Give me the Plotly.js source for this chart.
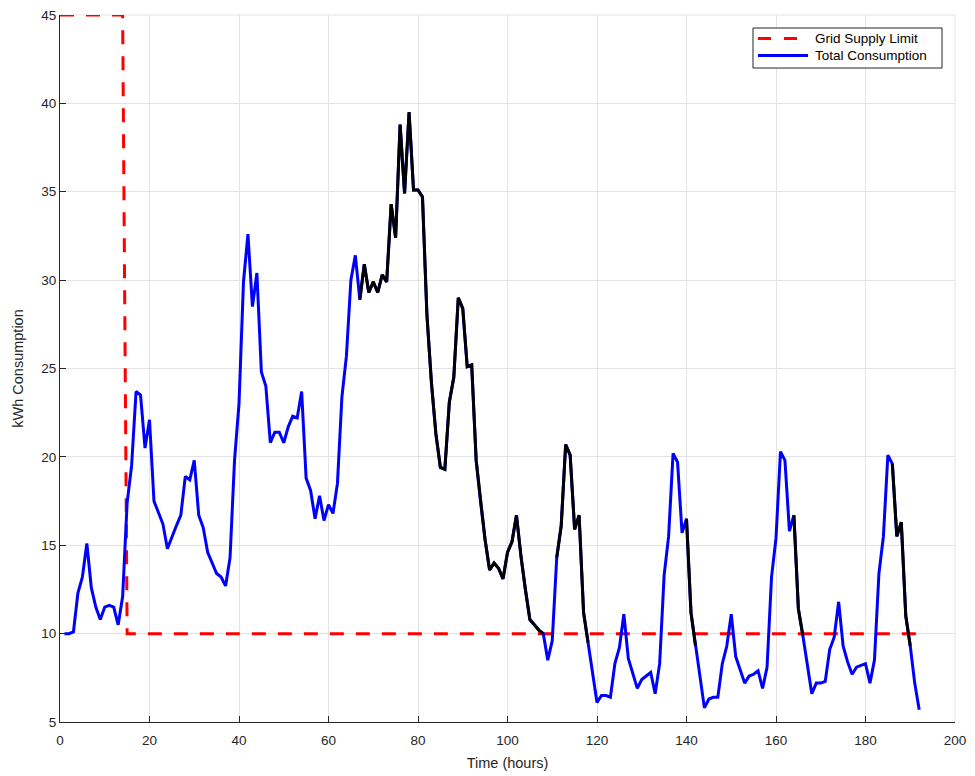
<!DOCTYPE html>
<html>
<head>
<meta charset="utf-8">
<script src="https://cdn.plot.ly/plotly-3.0.1.min.js"></script>
<style>
  html, body { margin: 0; padding: 0; background: #ffffff; }
  #chart { width: 975px; height: 776px; }
</style>
</head>
<body>
<div id="chart"></div>
<script>
// Hourly total consumption (kWh), hours 1..192
const consumption = [
  10.0, 10.0, 10.1, 12.3, 13.2, 15.1, 12.6, 11.5, 10.8, 11.5,
  11.6, 11.5, 10.5, 12.1, 17.4, 19.5, 23.7, 23.5, 20.5, 22.1,
  17.5, 16.9, 16.2, 14.8, 15.5, 16.1, 16.7, 18.9, 18.7, 19.8,
  16.7, 16.0, 14.6, 14.0, 13.4, 13.2, 12.7, 14.3, 19.8, 23.0,
  29.9, 32.6, 28.5, 30.4, 24.8, 24.0, 20.8, 21.4, 21.4, 20.8,
  21.7, 22.3, 22.2, 23.7, 18.8, 18.1, 16.5, 17.8, 16.4, 17.3,
  16.8, 18.5, 23.4, 25.7, 30.0, 31.4, 28.9, 30.9, 29.3, 29.9,
  29.3, 30.3, 29.9, 34.3, 32.4, 38.8, 34.9, 39.5, 35.1, 35.1,
  34.7, 28.0, 24.2, 21.3, 19.4, 19.3, 23.1, 24.5, 29.0, 28.4,
  25.1, 25.2, 19.8, 17.4, 15.3, 13.6, 14.0, 13.7, 13.1, 14.6,
  15.2, 16.7, 14.4, 12.5, 10.8, 10.5, 10.2, 10.0, 8.5, 9.6,
  14.3, 16.1, 20.7, 20.1, 15.9, 16.7, 11.2, 9.5, 7.8, 6.1,
  6.5, 6.5, 6.4, 8.3, 9.2, 11.1, 8.6, 7.8, 6.9, 7.4,
  7.6, 7.8, 6.6, 8.3, 13.3, 15.5, 20.2, 19.7, 15.7, 16.5,
  11.2, 9.3, 7.6, 5.8, 6.3, 6.4, 6.4, 8.3, 9.3, 11.1,
  8.7, 8.0, 7.2, 7.6, 7.7, 7.9, 6.9, 8.1, 13.2, 15.4,
  20.3, 19.8, 15.8, 16.7, 11.4, 9.9, 8.1, 6.6, 7.2, 7.2,
  7.3, 9.1, 9.8, 11.8, 9.3, 8.4, 7.7, 8.1, 8.2, 8.3,
  7.2, 8.5, 13.4, 15.5, 20.1, 19.6, 15.5, 16.3, 11.0, 9.3,
  7.2, 5.7
];
const hours = consumption.map((_, i) => i + 1);

// Hour ranges drawn in black (inclusive)
const blackRanges = [[67, 108], [111, 118], [140, 142], [164, 166], [186, 190]];

// Grid supply limit path
const limitHours = [0, 14, 15, 192];
const limitValues = [45, 45, 10, 10];

// Axis ticks
const xTicks = [0, 20, 40, 60, 80, 100, 120, 140, 160, 180, 200];
const yTicks = [5, 10, 15, 20, 25, 30, 35, 40, 45];

// Legend labels
const legendLabels = ['Grid Supply Limit', 'Total Consumption'];

const blackY = hours.map((h, i) =>
  blackRanges.some(r => h >= r[0] && h <= r[1]) ? consumption[i] : null);

const FONT = 'Arial, "Liberation Sans", Helvetica, sans-serif';
const AX = '#262626';
const RED = '#ff0000', BLUE = '#0000ff';
const DASH = '14px,12px';

const traces = [
  {
    x: limitHours, y: limitValues, type: 'scatter', mode: 'lines',
    name: legendLabels[0], showlegend: false,
    line: { color: RED, width: 3, dash: DASH },
    cliponaxis: false
  },
  {
    x: hours, y: consumption, type: 'scatter', mode: 'lines',
    name: legendLabels[1], showlegend: false,
    line: { color: BLUE, width: 3 }
  },
  {
    x: hours, y: blackY, type: 'scatter', mode: 'lines',
    name: 'Black segments', showlegend: false,
    connectgaps: false,
    line: { color: '#000000', width: 3 }
  }
];

// Legend box (paper coordinates)
const LG = { x0: 0.7743, x1: 0.9855, y0: 0.9250, y1: 0.9816,
             sx0: 0.7799, sx1: 0.8358, tx: 0.8413, rows: [0.9668, 0.9427] };

const layout = {
  width: 975, height: 776,
  margin: { l: 60, r: 20, t: 15, b: 54 },
  paper_bgcolor: '#ffffff', plot_bgcolor: '#ffffff',
  font: { family: FONT, size: 13, color: AX },
  showlegend: false,
  xaxis: {
    range: [0, 200], tickvals: xTicks, ticktext: xTicks.map(String),
    showgrid: true, gridcolor: '#e3e3e3', gridwidth: 1,
    zeroline: false, showline: true, linecolor: AX, linewidth: 1,
    ticks: 'inside', ticklen: 6, tickcolor: AX,
    ticklabelstandoff: 6,
    tickfont: { family: FONT, size: 13.5, color: AX },
    title: { text: 'Time (hours)', font: { family: FONT, size: 14.5, color: AX }, standoff: 10 }
  },
  yaxis: {
    range: [5, 45], tickvals: yTicks, ticktext: yTicks.map(String),
    showgrid: true, gridcolor: '#e3e3e3', gridwidth: 1,
    zeroline: false, showline: true, linecolor: AX, linewidth: 1,
    ticks: 'inside', ticklen: 6, tickcolor: AX,
    tickfont: { family: FONT, size: 13.5, color: AX },
    title: { text: 'kWh Consumption', font: { family: FONT, size: 14.5, color: AX }, standoff: 14 }
  },
  shapes: [
    { type: 'line', xref: 'paper', yref: 'paper', x0: 0, x1: 1, y0: 1, y1: 1, line: { color: '#e3e3e3', width: 1 }, layer: 'below' },
    { type: 'line', xref: 'paper', yref: 'paper', x0: 1, x1: 1, y0: 0, y1: 1, line: { color: '#e3e3e3', width: 1 }, layer: 'below' },
    { type: 'rect', xref: 'paper', yref: 'paper', x0: LG.x0, x1: LG.x1, y0: LG.y0, y1: LG.y1,
      fillcolor: '#ffffff', line: { color: AX, width: 1 }, layer: 'above' },
    { type: 'line', xref: 'paper', yref: 'paper', x0: LG.sx0, x1: LG.sx1, y0: LG.rows[0], y1: LG.rows[0],
      line: { color: RED, width: 3, dash: '13px,13px' }, layer: 'above' },
    { type: 'line', xref: 'paper', yref: 'paper', x0: LG.sx0, x1: LG.sx1, y0: LG.rows[1], y1: LG.rows[1],
      line: { color: BLUE, width: 3 }, layer: 'above' }
  ],
  annotations: legendLabels.map((t, i) => ({
    text: t, xref: 'paper', yref: 'paper', x: LG.tx, y: LG.rows[i],
    xanchor: 'left', yanchor: 'middle', showarrow: false,
    font: { family: FONT, size: 13.5, color: '#000000' }
  }))
};

Plotly.newPlot('chart', traces, layout, { displayModeBar: false, staticPlot: true });
</script>
</body>
</html>
